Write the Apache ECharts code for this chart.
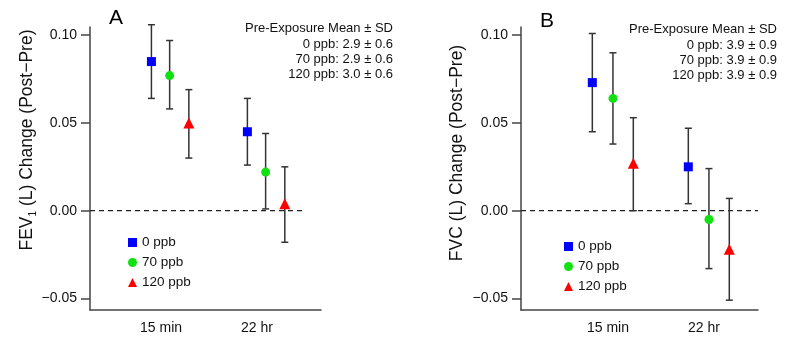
<!DOCTYPE html>
<html>
<head>
<meta charset="utf-8">
<script src="https://cdn.jsdelivr.net/npm/echarts@6/dist/echarts.min.js"></script>
<style>
  html, body { margin: 0; padding: 0; background: #fff; }
  #main { width: 785px; height: 343px; }
</style>
</head>
<body>
<div id="main"></div>
<script>
// 数据
const timeLabels = ['15 min', '22 hr']
const groups = ['0 ppb', '70 ppb', '120 ppb']

// FEV1 change, per group: [15 min, 22 hr]
const fevMean = [[0.085, 0.045], [0.077, 0.022], [0.050, 0.004]]
const fevLow = [[0.064, 0.026], [0.058, 0.001], [0.030, -0.018]]
const fevHigh = [[0.106, 0.064], [0.097, 0.044], [0.069, 0.025]]
const fevPre = ['2.9 ± 0.6', '2.9 ± 0.6', '3.0 ± 0.6']

// FVC change
const fvcMean = [[0.073, 0.025], [0.064, -0.005], [0.027, -0.022]]
const fvcLow = [[0.045, 0.004], [0.038, -0.033], [0.000, -0.051]]
const fvcHigh = [[0.101, 0.047], [0.090, 0.024], [0.053, 0.007]]
const fvcPre = ['3.9 ± 0.9', '3.9 ± 0.9', '3.9 ± 0.9']

const yTicks = [-0.05, 0, 0.05, 0.1]

// 样式
const FONT = 'Liberation Sans'
const colors = ['#0000ff', '#11e011', '#ff0000']
const symbols = ['rect', 'circle', 'triangle']
const symbolSizes = [9, 9, 11]
const axisColor = '#444'

// panel layout (grid index 0 = A, 1 = B)
const panels = [
  { left: 90, width: 231, xMin: 0.26, xMax: 2.667, offsets: [-0.1, 0.09, 0.29], zeroEnd: 2.479,
    mean: fevMean, low: fevLow, high: fevHigh },
  { left: 521, width: 237, xMin: 0.094, xMax: 2.563, offsets: [-0.163, 0.052, 0.264], zeroEnd: 2.563,
    mean: fvcMean, low: fvcLow, high: fvcHigh }
]

const chart = echarts.init(document.getElementById('main'))

function errorBar(params, api) {
  const x = api.value(0)
  const lo = api.coord([x, api.value(1)])
  const hi = api.coord([x, api.value(2)])
  const w = 3.5
  const style = { stroke: '#333', lineWidth: 1.5 }
  return {
    type: 'group',
    children: [
      { type: 'line', shape: { x1: lo[0], y1: lo[1], x2: hi[0], y2: hi[1] }, style },
      { type: 'line', shape: { x1: lo[0] - w, y1: lo[1], x2: lo[0] + w, y2: lo[1] }, style },
      { type: 'line', shape: { x1: hi[0] - w, y1: hi[1], x2: hi[0] + w, y2: hi[1] }, style }
    ]
  }
}

const grid = []
const xAxis = []
const yAxis = []
const series = []

panels.forEach((p, pi) => {
  grid.push({ left: p.left, width: p.width, top: 27, height: 283, outerBoundsMode: 'none' })
  xAxis.push({
    gridIndex: pi, type: 'value', min: p.xMin, max: p.xMax,
    splitLine: { show: false },
    axisLine: { onZero: false, lineStyle: { color: axisColor, width: 1.5 } },
    axisTick: { show: false },
    axisLabel: {
      customValues: [1, 2],
      formatter: v => timeLabels[Math.round(v) - 1],
      margin: 11, color: '#111', fontSize: 14, fontFamily: FONT
    }
  })
  yAxis.push({
    gridIndex: pi, type: 'value', min: -0.0566, max: 0.1047,
    splitLine: { show: false },
    axisLine: { show: true, onZero: false, lineStyle: { color: axisColor, width: 1.5 } },
    axisTick: { show: true, customValues: yTicks, length: 9, lineStyle: { color: axisColor, width: 1.5 } },
    axisLabel: {
      customValues: yTicks,
      formatter: v => v.toFixed(2).replace('-', '\u2212'),
      margin: 13, color: '#111', fontSize: 14, fontFamily: FONT
    }
  })

  // 零线
  series.push({
    type: 'line', xAxisIndex: pi, yAxisIndex: pi, silent: true, symbol: 'none',
    data: [[p.xMin, 0], [p.zeroEnd, 0]],
    lineStyle: { color: '#222', width: 1.3, type: [5, 4] }, z: 1
  })

  groups.forEach((g, gi) => {
    series.push({
      name: g + ' err', type: 'custom', xAxisIndex: pi, yAxisIndex: pi,
      renderItem: errorBar,
      data: timeLabels.map((t, ti) => [ti + 1 + p.offsets[gi], p.low[gi][ti], p.high[gi][ti]]),
      z: 2
    })
    series.push({
      name: g, type: 'scatter', xAxisIndex: pi, yAxisIndex: pi,
      symbol: symbols[gi], symbolSize: symbolSizes[gi],
      itemStyle: { color: colors[gi], opacity: 1 },
      data: timeLabels.map((t, ti) => [ti + 1 + p.offsets[gi], p.mean[gi][ti]]),
      z: 3
    })
  })
})

function legendFor(left, top) {
  return {
    data: groups, orient: 'vertical', left, top,
    itemWidth: 9, itemHeight: 9, itemGap: 5, selectedMode: false,
    textStyle: { fontSize: 13.5, fontFamily: FONT, color: '#111', lineHeight: 15 }
  }
}

function preText(right, top, vals) {
  return {
    type: 'text', right, top,
    style: {
      text: ['Pre-Exposure Mean ± SD'].concat(groups.map((g, i) => g + ': ' + vals[i])).join('\n'),
      font: '13px ' + FONT, fill: '#111', textAlign: 'right', lineHeight: 15.3
    }
  }
}

function yTitle(x, y, text) {
  return {
    type: 'text', x, y, rotation: Math.PI / 2,
    style: {
      text, font: '17.5px ' + FONT, fill: '#111', align: 'center', verticalAlign: 'middle',
      lineHeight: 22,
      rich: { sub: { fontSize: 10, fontFamily: FONT, verticalAlign: 'bottom', lineHeight: 10, fill: '#111' } }
    }
  }
}

const option = {
  animation: false,
  grid, xAxis, yAxis, series,
  legend: [legendFor(123, 230), legendFor(559, 234)],
  graphic: [
    { type: 'text', x: 116, y: 18, style: { text: 'A', font: '21px ' + FONT, fill: '#000', align: 'center', verticalAlign: 'middle' } },
    { type: 'text', x: 547, y: 21, style: { text: 'B', font: '21px ' + FONT, fill: '#000', align: 'center', verticalAlign: 'middle' } },
    preText(392, 21, fevPre),
    preText(8, 22, fvcPre),
    yTitle(27, 140, 'FEV{sub|1} (L) Change (Post\u2212Pre)'),
    yTitle(457, 153, 'FVC (L) Change (Post\u2212Pre)')
  ]
}

chart.setOption(option)
</script>
</body>
</html>
